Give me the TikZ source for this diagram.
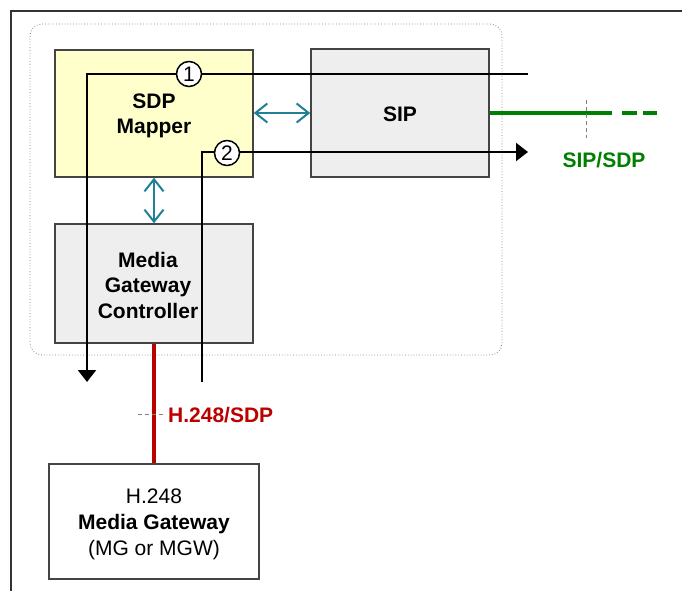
\documentclass[tikz,border=0pt]{standalone}
\usepackage{fontspec}
\setmainfont{Liberation Sans}
\usetikzlibrary{arrows.meta}
\definecolor{boxyellow}{HTML}{FFFFCC}
\definecolor{boxgray}{HTML}{EEEEEE}
\definecolor{edgegray}{HTML}{444444}
\definecolor{tealc}{HTML}{1F8096}
\definecolor{greenc}{HTML}{008000}
\definecolor{redc}{HTML}{BB0000}
\tikzset{
  blockbox/.style={draw=edgegray, line width=1.5pt, inner sep=0pt},
  blocktext/.style={inner sep=0pt, align=center, font=\fontsize{21}{25.5}\selectfont\bfseries},
  numcircle/.style={circle, draw=black, line width=1.5pt, fill=white, minimum size=25pt,
    inner sep=0pt, font=\fontsize{21}{21}\selectfont},
  flow/.style={draw=black, line width=2.2pt},
  flowtip/.style={-{Triangle[length=12pt,width=18pt]}},
  tealarrow/.style={draw=tealc, line width=2pt, {Straight Barb[length=12pt,width=19pt,line width=2pt]}-{Straight Barb[length=12pt,width=19pt,line width=2pt]}},
  ticks/.style={draw=gray, line width=1pt, dash pattern=on 4pt off 3pt},
  protolabel/.style={font=\fontsize{21}{24}\selectfont\bfseries, inner sep=0pt}
}
\begin{document}
\begin{tikzpicture}[x=1pt,y=-1pt]
\useasboundingbox (0,0) rectangle (682,591);
% outer frame
\draw[color=black!80, line width=1.5pt] (682,11) -- (11,11) -- (11,591);
% dotted container
\draw[gray, line width=0.8pt, dotted, rounded corners=12pt] (30,24) rectangle (502,355);
% blocks
\node[blockbox, fill=boxyellow, minimum width=198pt, minimum height=127pt] (sdp) at (154,113.5) {};
\node[blocktext] (sdpt) at (154,116) {SDP\\Mapper};
\node[blockbox, fill=boxgray, minimum width=178pt, minimum height=128pt] (sip) at (400,113) {};
\node[blocktext] (sipt) at (400,114) {SIP};
\node[blockbox, fill=boxgray, minimum width=198pt, minimum height=119pt] (mgc) at (154,283.5) {};
\node[blocktext] (mgct) at (148,285) {Media\\Gateway\\Controller};
\node[blockbox, fill=white, minimum width=210pt, minimum height=115pt] (mg) at (154,521.5) {};
\node[inner sep=0pt, align=center, font=\fontsize{21}{26}\selectfont] (mgt) at (154,524.5) {H.248\\\textbf{Media Gateway}\\(MG or MGW)};
% teal bidirectional arrows
\draw[tealarrow] (sdp.east |- sip.west) -- (sip.west);
\draw[tealarrow] (sdp.south) -- (mgc.north);
% flow lines
\coordinate (l1s) at (528,74);
\coordinate (l1c) at (87,74);
\coordinate (l1e) at (87,382);
\draw[flow, flowtip] (l1s) -- (l1c) -- (l1e);
\coordinate (l2s) at (202,382);
\coordinate (l2c) at (202,152);
\coordinate (l2e) at (528,152);
\draw[flow, flowtip] (l2s) -- (l2c) -- (l2e);
\node[numcircle] (c1) at (189,74) {1};
\node[numcircle] (c2) at (227,153) {2};
% SIP/SDP green link
\coordinate (g1) at (612,113);
\coordinate (g2) at (622,113);
\coordinate (g3) at (657,113);
\draw[greenc, line width=4pt] (sip.east) -- (g1);
\draw[greenc, line width=4pt, dash pattern=on 15pt off 6pt] (g2) -- (g3);
\coordinate (t1a) at (586,100);
\coordinate (t1b) at (586,138);
\draw[ticks] (t1a) -- (t1b);
\node[protolabel, text=greenc] (siplabel) at (604,160) {SIP/SDP};
% H.248 red link
\draw[redc, line width=4pt] (mgc.south) -- (mg.north);
\coordinate (t2a) at (138,414);
\coordinate (t2b) at (164,414);
\draw[ticks] (t2a) -- (t2b);
\node[protolabel, text=redc, anchor=west] (h248label) at (168,415) {H.248/SDP};
\end{tikzpicture}
\end{document}
